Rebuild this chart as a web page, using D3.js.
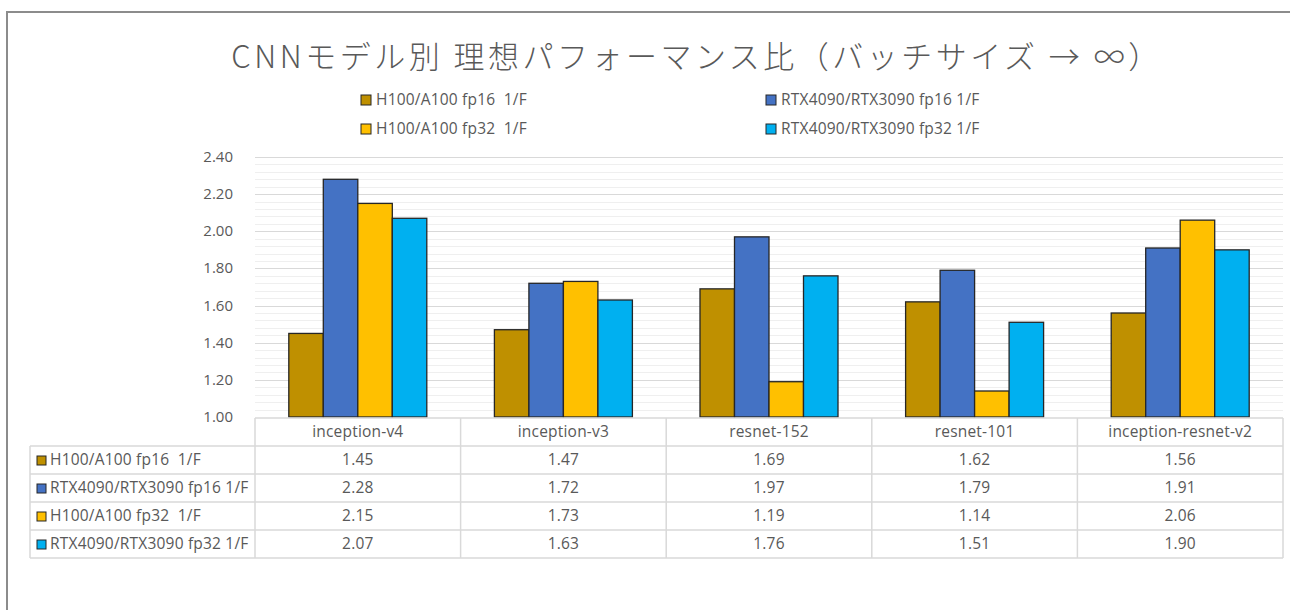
<!DOCTYPE html>
<html>
<head>
<meta charset="utf-8">
<script src="https://cdn.jsdelivr.net/npm/d3@7"></script>
<style>
  html, body { margin: 0; padding: 0; background: #fff; }
  svg { display: block; font-family: "Open Sans", "Noto Sans CJK JP", sans-serif; }
  .grid-major { stroke: #d9d9d9; stroke-width: 1; }
  .grid-minor { stroke: #efefef; stroke-width: 1; }
  .tick-label { fill: #595959; font-size: 15px; }
  .cell-text { fill: #595959; font-size: 15.5px; letter-spacing: 0.2px; white-space: pre; }
  .table-line { stroke: #d9d9d9; stroke-width: 1.5; fill: none; }
</style>
</head>
<body>
<svg id="chart" width="1290" height="610"></svg>
<script>
(function () {
  'use strict';

  const TITLE = 'CNNモデル別 理想パフォーマンス比（バッチサイズ → ∞）';
  const CATEGORIES = ['inception-v4', 'inception-v3', 'resnet-152', 'resnet-101', 'inception-resnet-v2'];
  const SERIES_NAMES = ['H100/A100 fp16  1/F', 'RTX4090/RTX3090 fp16 1/F', 'H100/A100 fp32  1/F', 'RTX4090/RTX3090 fp32 1/F'];
  const SERIES_COLORS = ['#bf9000', '#4472c4', '#ffc000', '#00b0f0'];
  const H100_FP16 = [1.45, 1.47, 1.69, 1.62, 1.56];
  const RTX_FP16 = [2.28, 1.72, 1.97, 1.79, 1.91];
  const H100_FP32 = [2.15, 1.73, 1.19, 1.14, 2.06];
  const RTX_FP32 = [2.07, 1.63, 1.76, 1.51, 1.90];
  const SERIES_VALUES = [H100_FP16, RTX_FP16, H100_FP32, RTX_FP32];
  const Y_TICKS = [1.0, 1.2, 1.4, 1.6, 1.8, 2.0, 2.2, 2.4];

  const svg = d3.select('#chart');

  // Chart frame (only top/left visible in the screenshot)
  svg.append('rect')
    .attr('x', 7).attr('y', 12)
    .attr('width', 1400).attr('height', 700)
    .attr('fill', 'none')
    .attr('stroke', '#8c8c8c').attr('stroke-width', 2);

  // Title
  svg.append('text')
    .attr('x', 697).attr('y', 68)
    .attr('text-anchor', 'middle')
    .attr('fill', '#595959')
    .attr('font-family', '"Noto Sans CJK JP", sans-serif')
    .attr('font-size', 31)
    .attr('font-weight', 300)
    .attr('letter-spacing', 3.5)
    .text(TITLE);

  // Legend, 2 columns
  const legendPos = [[361, 100], [361, 129], [766, 100], [766, 129]];
  const legendOrder = [0, 2, 1, 3];
  SERIES_NAMES.forEach((name, i) => {
    const [lx, ly] = legendPos[legendOrder.indexOf(i)];
    svg.append('rect')
      .attr('x', lx).attr('y', ly - 5)
      .attr('width', 10).attr('height', 10)
      .attr('fill', SERIES_COLORS[i])
      .attr('stroke', '#262626').attr('stroke-width', 1);
    svg.append('text')
      .attr('class', 'cell-text')
      .attr('x', lx + 15).attr('y', ly + 5)
      .text(name);
  });

  const plotLeft = 255, plotRight = 1283;
  const y = d3.scaleLinear().domain([1.0, 2.4]).range([417, 157]);
  const x0 = d3.scaleBand().domain(CATEGORIES).range([plotLeft, plotRight]).paddingInner(0).paddingOuter(0);
  const groupW = 138;
  const x1 = d3.scaleBand().domain(d3.range(SERIES_NAMES.length)).range([0, groupW]);

  // Gridlines: minor every 0.04, major every 0.2
  const minorTicks = d3.range(0, 36).map(k => 1.0 + k * 0.04).filter(v => Math.abs(v * 5 - Math.round(v * 5)) > 1e-6);
  svg.append('g').selectAll('line').data(minorTicks).join('line')
    .attr('class', 'grid-minor')
    .attr('x1', plotLeft).attr('x2', plotRight)
    .attr('y1', d => Math.round(y(d)) + 0.5).attr('y2', d => Math.round(y(d)) + 0.5);
  svg.append('g').selectAll('line').data(Y_TICKS.slice(1)).join('line')
    .attr('class', 'grid-major')
    .attr('x1', plotLeft).attr('x2', plotRight)
    .attr('y1', d => Math.round(y(d)) + 0.5).attr('y2', d => Math.round(y(d)) + 0.5);

  // Y tick labels
  svg.append('g').selectAll('text').data(Y_TICKS).join('text')
    .attr('class', 'tick-label')
    .attr('x', 233).attr('y', d => y(d) + 5)
    .attr('text-anchor', 'end')
    .text(d => d.toFixed(2));

  // Bars
  const barsG = svg.append('g');
  CATEGORIES.forEach((cat, ci) => {
    const gx = x0(cat) + (x0.bandwidth() - groupW) / 2;
    SERIES_VALUES.forEach((vals, si) => {
      barsG.append('rect')
        .attr('x', gx + x1(si))
        .attr('y', y(vals[ci]))
        .attr('width', x1.bandwidth())
        .attr('height', y(1.0) - y(vals[ci]))
        .attr('fill', SERIES_COLORS[si])
        .attr('stroke', '#262626').attr('stroke-width', 1.3);
    });
  });

  // Data table
  const tableLeft = 30, tableTop = 418, rowH = 28;
  const tableG = svg.append('g');
  const nRows = SERIES_NAMES.length + 1;
  const tableBottom = tableTop + nRows * rowH;
  // category header row (starts at plotLeft)
  tableG.append('line').attr('class', 'table-line')
    .attr('x1', plotLeft).attr('x2', plotRight).attr('y1', tableTop).attr('y2', tableTop);
  for (let r = 1; r <= nRows; r++) {
    tableG.append('line').attr('class', 'table-line')
      .attr('x1', tableLeft).attr('x2', plotRight)
      .attr('y1', tableTop + r * rowH).attr('y2', tableTop + r * rowH);
  }
  tableG.append('line').attr('class', 'table-line')
    .attr('x1', tableLeft).attr('x2', tableLeft).attr('y1', tableTop + rowH).attr('y2', tableBottom);
  CATEGORIES.forEach((cat) => {
    tableG.append('line').attr('class', 'table-line')
      .attr('x1', x0(cat)).attr('x2', x0(cat)).attr('y1', tableTop).attr('y2', tableBottom);
  });
  tableG.append('line').attr('class', 'table-line')
    .attr('x1', plotRight).attr('x2', plotRight).attr('y1', tableTop).attr('y2', tableBottom);

  CATEGORIES.forEach((cat) => {
    tableG.append('text').attr('class', 'cell-text')
      .attr('x', x0(cat) + x0.bandwidth() / 2).attr('y', tableTop + 19)
      .attr('text-anchor', 'middle')
      .text(cat);
  });
  SERIES_NAMES.forEach((name, si) => {
    const ry = tableTop + (si + 1) * rowH;
    tableG.append('rect')
      .attr('x', tableLeft + 7).attr('y', ry + 10)
      .attr('width', 9).attr('height', 9)
      .attr('fill', SERIES_COLORS[si])
      .attr('stroke', '#262626').attr('stroke-width', 1);
    tableG.append('text').attr('class', 'cell-text')
      .attr('x', tableLeft + 20).attr('y', ry + 19)
      .text(name);
    CATEGORIES.forEach((cat, ci) => {
      tableG.append('text').attr('class', 'cell-text')
        .attr('x', x0(cat) + x0.bandwidth() / 2).attr('y', ry + 19)
        .attr('text-anchor', 'middle')
        .text(SERIES_VALUES[si][ci].toFixed(2));
    });
  });
})();
</script>
</body>
</html>
